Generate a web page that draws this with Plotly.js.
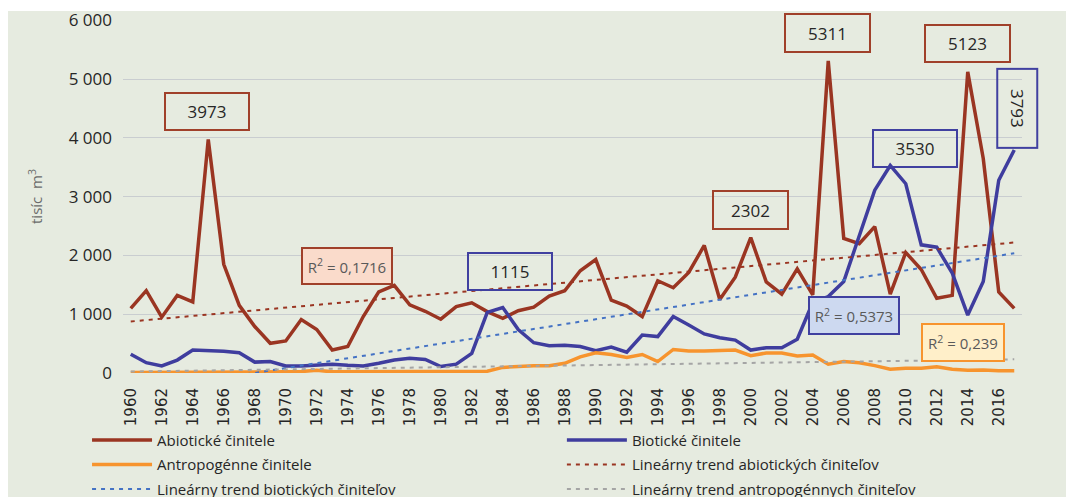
<!DOCTYPE html>
<html>
<head>
<meta charset="utf-8">
<script src="https://cdn.plot.ly/plotly-3.0.1.min.js"></script>
<style>
  html, body { margin: 0; padding: 0; background: #ffffff; overflow: hidden; }
  #chart { position: absolute; left: 0px; top: 0px; width: 1066px; height: 530px; }
</style>
</head>
<body>
<div id="chart"></div>
<script>
const years = [];
for (let y = 1960; y <= 2017; y++) years.push(y);

const abiotic = [1100,1400,950,1320,1210,3973,1850,1150,790,505,
                 545,910,740,390,450,960,1380,1490,1160,1050,
                 915,1130,1195,1045,930,1060,1120,1310,1400,1740,
                 1930,1240,1140,960,1570,1450,1710,2170,1250,1630,
                 2302,1550,1340,1770,1330,5311,2290,2200,2490,1340,
                 2050,1760,1270,1320,5123,3650,1380,1100];

const biotic = [320,175,120,220,390,380,370,345,185,195,
                120,120,130,150,130,120,165,220,250,230,
                110,150,335,1030,1115,740,515,465,470,450,
                380,440,355,645,620,960,815,665,600,560,
                390,430,430,575,1200,1300,1555,2320,3110,3530,
                3220,2180,2140,1700,985,1555,3280,3793];

const antro = [10,10,10,10,10,15,15,15,15,20,
               20,25,45,20,20,20,20,20,20,20,
               20,20,25,30,95,110,125,125,165,275,
               345,315,265,315,195,400,375,375,385,390,
               295,340,340,290,305,150,195,175,125,65,
               80,80,105,65,45,50,40,40];

const seriesNames = ["Abiotické činitele", "Biotické činitele", "Antropogénne činitele"];
const trendNames = ["Lineárny trend abiotických činiteľov", "Lineárny trend biotických činiteľov", "Lineárny trend antropogénnych činiteľov"];
const r2Labels = ["R<sup>2</sup> = 0,1716", "R<sup>2</sup> = 0,5373", "R<sup>2</sup> = 0,239"];
const peakLabels = ["3973", "5311", "5123", "2302", "1115", "3530", "3793"];

function linTrend(xs, ys) {
  const n = xs.length;
  let sx = 0, sy = 0, sxx = 0, sxy = 0;
  for (let i = 0; i < n; i++) { sx += xs[i]; sy += ys[i]; sxx += xs[i]*xs[i]; sxy += xs[i]*ys[i]; }
  const b = (n*sxy - sx*sy) / (n*sxx - sx*sx);
  const a = (sy - b*sx) / n;
  return [a + b*xs[0], a + b*xs[n-1]];
}

const cAbio = "#9A3522", cBio = "#3F3D9E", cAntro = "#F7942E";
const cTAbio = "#9A3522", cTBio = "#4472C4", cTAntro = "#A5A5A5";
const endYears = [years[0], years[years.length-1]];
const dashT = "4px,5px";

const traces = [
  {x: years, y: abiotic, name: seriesNames[0], mode: "lines", line: {color: cAbio, width: 3.5}, legend: "legend", legendgroup: "a"},
  {x: years, y: biotic, name: seriesNames[1], mode: "lines", line: {color: cBio, width: 3.5}, legend: "legend2", legendgroup: "b"},
  {x: years, y: antro, name: seriesNames[2], mode: "lines", line: {color: cAntro, width: 3.5}, legend: "legend", legendgroup: "c"},
  {x: endYears, y: linTrend(years, abiotic), name: trendNames[0], mode: "lines", line: {color: cTAbio, width: 2, dash: dashT}, legend: "legend2", legendgroup: "d"},
  {x: endYears, y: linTrend(years, biotic), name: trendNames[1], mode: "lines", line: {color: cTBio, width: 2, dash: dashT}, legend: "legend", legendgroup: "e"},
  {x: endYears, y: linTrend(years, antro), name: trendNames[2], mode: "lines", line: {color: cTAntro, width: 2, dash: dashT}, legend: "legend2", legendgroup: "f"}
];

function box(text, x, y, w, h, border, extra) {
  return Object.assign({
    text: text, x: x, y: y, xref: "x", yref: "y", showarrow: false,
    width: w, height: h, borderpad: 0, borderwidth: 2, bordercolor: border,
    bgcolor: "rgba(0,0,0,0)", align: "center", valign: "middle",
    font: {family: "Open Sans, sans-serif", size: 17, color: "#262626"}
  }, extra || {});
}

const r2Font = {family: "Open Sans, sans-serif", size: 15, color: "#595959"};
const annotations = [
  box(peakLabels[0], 1964.94, 4456, 82, 35, "#A0402A"),
  box(peakLabels[1], 2004.97, 5791, 83, 36, "#A0402A"),
  box(peakLabels[2], 2014.0, 5612, 83, 35, "#A0402A"),
  box(peakLabels[3], 2000.0, 2781, 73, 36, "#A0402A"),
  box(peakLabels[4], 1984.48, 1735, 82, 35, "#4040A0"),
  box(peakLabels[5], 2010.61, 3827, 82, 35, "#4040A0"),
  box(peakLabels[6], 2017.19, 4507, 77, 38, "#4040A0", {textangle: 90}),
  box(r2Labels[0], 1973.97, 1828, 88, 34, "#A0402A", {bgcolor: "#FADBCB", font: r2Font}),
  box(r2Labels[1], 2006.68, 986, 88, 35, "#4040A0", {bgcolor: "#CDD9F0", font: r2Font}),
  box(r2Labels[2], 2013.71, 527, 80, 35, "#F7942E", {bgcolor: "#FFEFC9", font: r2Font})
];

const legendFont = {family: "Open Sans, sans-serif", size: 15, color: "#262626"};
const legendBase = {
  orientation: "v", xanchor: "left", y: -0.1435, yanchor: "top",
  itemwidth: 60, tracegroupgap: 2, bgcolor: "rgba(0,0,0,0)", font: legendFont
};

// white frame strips (top and left) outside the chart's panel
const shapes = [
  {type: "rect", xref: "paper", yref: "paper", layer: "below",
   x0: -0.2, x1: 1.2, y0: 1 + 9/353, y1: 1.2, fillcolor: "#FFFFFF", line: {width: 0}},
  {type: "rect", xref: "paper", yref: "paper", layer: "below",
   x0: -0.2, x1: -115/899, y0: -1, y1: 1.2, fillcolor: "#FFFFFF", line: {width: 0}}
];

const layout = {
  width: 1066, height: 530,
  paper_bgcolor: "#E6EBE0", plot_bgcolor: "#E6EBE0",
  margin: {l: 123, r: 44, t: 20, b: 157},
  separators: ", ",
  showlegend: true,
  font: {family: "Open Sans, sans-serif", color: "#262626"},
  xaxis: {
    range: [1959.5, 2017.5], tick0: 1960, dtick: 2, tickangle: -90,
    showgrid: false, zeroline: false, showline: false, ticks: "",
    ticklabelstandoff: 11,
    tickfont: {family: "DejaVu Sans, sans-serif", size: 15, color: "#262626"},
    automargin: false, fixedrange: true
  },
  yaxis: {
    range: [0, 6005], tick0: 0, dtick: 1000, tickformat: ",d",
    showgrid: true, gridcolor: "#C9CDD0", gridwidth: 1, zeroline: false, showline: false, ticks: "",
    ticklabelstandoff: 10,
    tickfont: {family: "Open Sans, sans-serif", size: 17, color: "#262626"},
    title: {text: "tisíc  m<sup>3</sup>", standoff: 22, font: {family: "Open Sans, sans-serif", size: 15, color: "#6B6B6B"}},
    automargin: false, fixedrange: true
  },
  legend: Object.assign({x: -0.040}, legendBase),
  legend2: Object.assign({x: 0.4882}, legendBase),
  shapes: shapes,
  annotations: annotations,
  hovermode: false
};

Plotly.newPlot("chart", traces, layout, {displayModeBar: false, staticPlot: true});
</script>
</body>
</html>
